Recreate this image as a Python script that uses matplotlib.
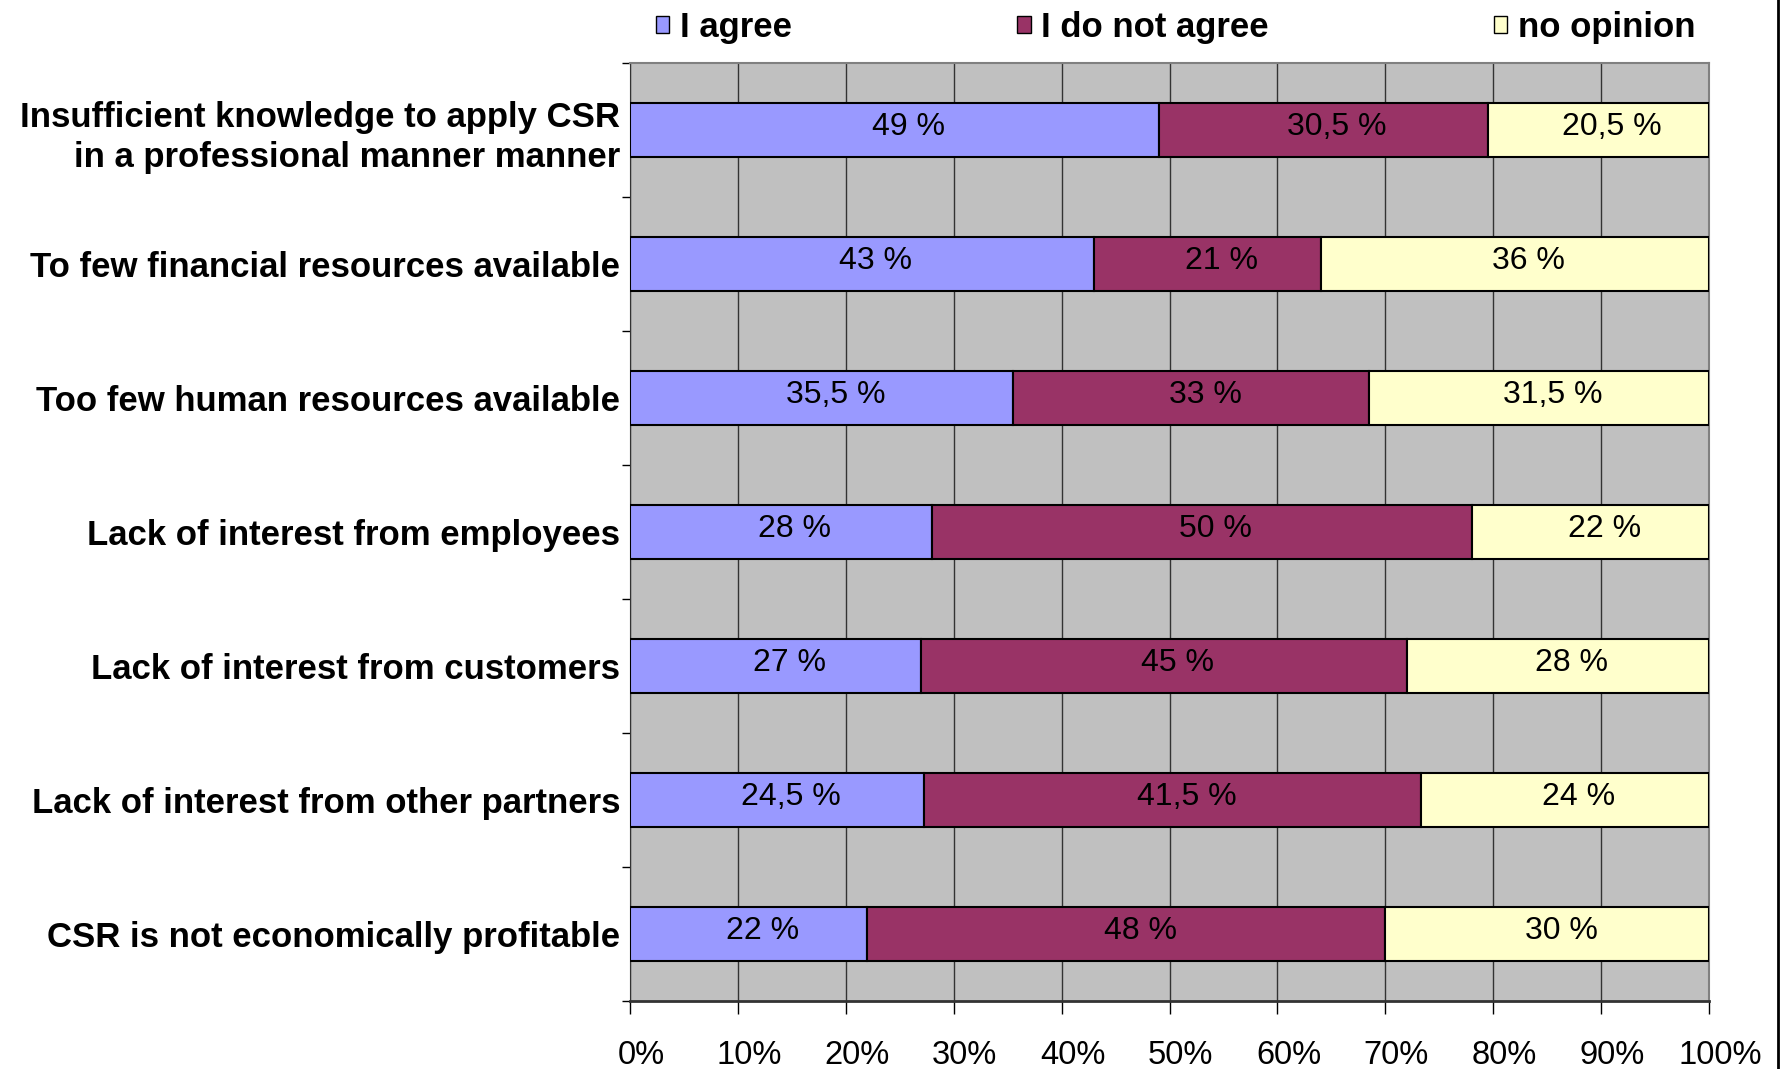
import matplotlib.pyplot as plt
import matplotlib.transforms as mtransforms
from matplotlib.patches import Patch
from matplotlib.lines import Line2D
import numpy as np

plt.rcParams['font.family'] = ['Liberation Sans', 'DejaVu Sans']

# Dados da pesquisa (valores brutos, em %)
categorias = [
    "Insufficient knowledge to apply CSR\nin a professional manner manner",
    "To few financial resources available",
    "Too few human resources available",
    "Lack of interest from employees",
    "Lack of interest from customers",
    "Lack of interest from other partners",
    "CSR is not economically profitable",
]
concordo = [49, 43, 35.5, 28, 27, 24.5, 22]
nao_concordo = [30.5, 21, 33, 50, 45, 41.5, 48]
sem_opiniao = [20.5, 36, 31.5, 22, 28, 24, 30]

series = ["I agree", "I do not agree", "no opinion"]
cores = ["#9999FF", "#993366", "#FFFFCC"]

valores = np.array([concordo, nao_concordo, sem_opiniao])
# Barras empilhadas a 100% (cada linha normalizada pela soma)
proporcao = valores / valores.sum(axis=0) * 100

fig = plt.figure(figsize=(17.86, 10.69), dpi=100)
ax = fig.add_axes([630 / 1786, 68 / 1069, 1079 / 1786, 938 / 1069])
ax.set_facecolor("#C0C0C0")

y = np.arange(len(categorias))
esquerda = np.zeros(len(categorias))
for i in range(3):
    barras = ax.barh(y, proporcao[i], left=esquerda, height=0.4, color=cores[i],
                     edgecolor="black", linewidth=1.5, zorder=3)
    for j, b in enumerate(barras):
        txt = f"{valores[i][j]:g} %".replace(".", ",")
        ax.annotate(txt, (esquerda[j] + proporcao[i][j] / 2, y[j]),
                    xytext=(10, 2), textcoords="offset points",
                    ha="center", va="center", fontsize=23, zorder=4)
    esquerda += proporcao[i]

ax.set_xlim(0, 100)
ax.set_ylim(len(categorias) - 0.5, -0.5)
ax.set_xticks(np.arange(0, 101, 10))
ax.set_xticklabels([f"{v}%" for v in range(0, 101, 10)], fontsize=23.5)
ax.set_yticks(y)
ax.set_yticklabels(categorias, fontsize=25, fontweight="bold", linespacing=1.3)
ax.set_yticks(np.arange(-0.5, len(categorias)), minor=True)
ax.tick_params(axis="y", which="major", length=0, pad=7)
ax.tick_params(axis="y", which="minor", length=6, width=1, color="black", direction="out")
ax.tick_params(axis="x", length=9, width=1, color="black", direction="out", pad=19)

desloc = mtransforms.ScaledTranslation(8 / 72, 0, fig.dpi_scale_trans)
for lbl in ax.get_xticklabels():
    lbl.set_transform(lbl.get_transform() + desloc)

ax.grid(axis="x", color="#333333", linewidth=1, zorder=1)
ax.set_axisbelow(True)

ax.spines["left"].set_color("#333333")
ax.spines["bottom"].set_color("#333333")
ax.spines["bottom"].set_linewidth(2)
ax.spines["top"].set_color("#808080")
ax.spines["right"].set_color("#808080")
ax.spines["top"].set_linewidth(1.5)
ax.spines["right"].set_linewidth(1.5)

handles = [Patch(facecolor=c, edgecolor="black", linewidth=1) for c in cores]
leg = fig.legend(handles, series, loc="center left", ncol=3,
                 bbox_to_anchor=(656 / 1786, 1 - 27 / 1069),
                 frameon=False, borderpad=0, borderaxespad=0,
                 handlelength=0.38, handleheight=0.38, handletextpad=0.3,
                 columnspacing=6.5, prop={"size": 25, "weight": "bold"})

# linha vertical na borda direita da figura
fig.add_artist(Line2D([1778 / 1786, 1778 / 1786], [0, 1], color="black", linewidth=2))

fig.savefig("out.png", dpi=100)
